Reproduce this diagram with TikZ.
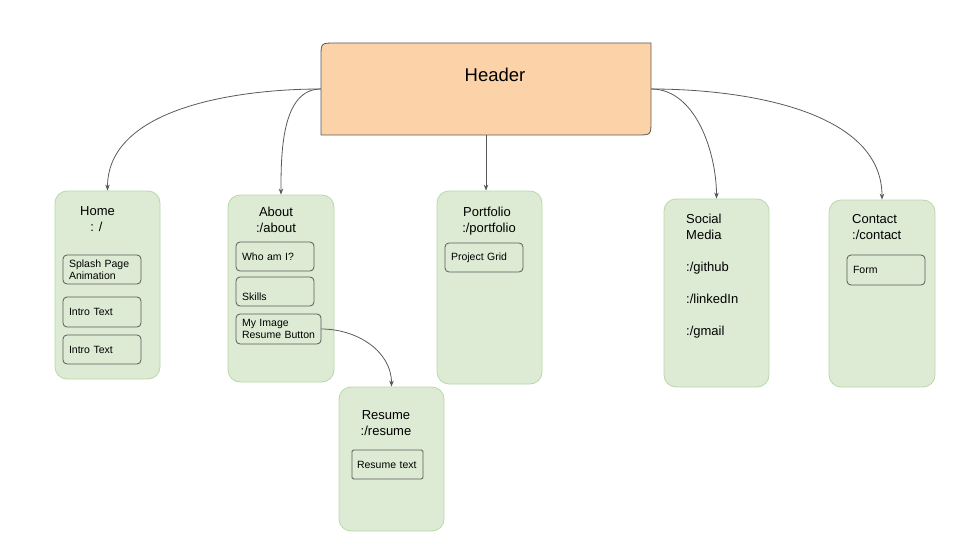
\documentclass[tikz,border=0pt]{standalone}
\usepackage{fontspec}
\setmainfont{Liberation Sans}
\usetikzlibrary{arrows.meta}
\definecolor{gfill}{HTML}{DDEBD4}
\definecolor{gline}{HTML}{B7D9A8}
\definecolor{hfill}{HTML}{FCD3A9}
\definecolor{dline}{HTML}{595959}
\tikzset{
  page/.style={draw=gline, fill=gfill, rounded corners=12pt, line width=0.8pt, inner sep=0pt},
  sub/.style={draw=dline, rounded corners=4pt, line width=0.8pt, inner xsep=6pt, inner ysep=0pt,
     text width=66pt, align=left, font=\fontsize{10.5}{12}\selectfont},
  ttl/.style={inner sep=0pt, font=\fontsize{13}{16}\selectfont},
  conn/.style={draw=dline, line width=0.8pt, -{Stealth[length=6pt,width=4.5pt]}}
}
\begin{document}
\begin{tikzpicture}[x=1pt,y=-1pt]
\useasboundingbox (0,0) rectangle (960,540);
% header
\fill[hfill, draw=dline, line width=0.8pt] (321,135) -- (321,57) .. controls (321,43) .. (335,43) -- (651,43) -- (651,121) .. controls (651,135) .. (637,135) -- cycle;
\node[minimum width=330pt, minimum height=92pt, inner sep=0pt] (header) at (486,89) {};
\node[inner sep=0pt, font=\fontsize{18.5}{22}\selectfont] (htext) at (495,75) {Header};
% pages
\node[page, minimum width=105pt, minimum height=188pt] (home) at (107.5,285) {};
\node[page, minimum width=106pt, minimum height=187pt] (about) at (281,288.5) {};
\node[page, minimum width=105pt, minimum height=193pt] (portfolio) at (489.5,287.5) {};
\node[page, minimum width=105pt, minimum height=188pt] (social) at (716.5,293) {};
\node[page, minimum width=106pt, minimum height=187pt] (contact) at (882,293.5) {};
\node[page, minimum width=105pt, minimum height=144pt] (resume) at (391.5,459) {};
% connectors
\draw[conn] (header.west) to[out=180, in=90, looseness=0.9] (home.north);
\draw[conn] (header.west) to[out=180, in=90, looseness=0.9] (about.north);
\draw[conn] (header.south) -- (header.south |- portfolio.north);
\draw[conn] (header.east) to[out=0, in=90, looseness=0.9] (social.north);
\draw[conn] (header.east) to[out=0, in=90, looseness=0.9] (contact.north);
% titles
\node[ttl, align=center] (hometitle) at (97.5,219.5) {Home\\\hspace*{-2pt}: /};
\node[ttl, align=center] (abouttitle) at (276,219.5) {About\\:/about};
\node[ttl, align=center] (portftitle) at (487,221.5) {Portfolio\\\hspace*{4pt}:/portfolio};
\node[ttl, align=left, anchor=north west] (socialtitle) at (686,214) {Social\\Media\\[16pt]:/github\\[16pt]:/linkedIn\\[16pt]:/gmail};
\node[ttl, align=left, anchor=north west] (contacttitle) at (852,214) {Contact\\:/contact};
\node[ttl, align=center] (resumetitle) at (386,423.5) {Resume\\:/resume};
% sub boxes
\node[sub, minimum height=29pt] (splash) at (102,269.5) {Splash Page\\Animation};
\node[sub, minimum height=30pt] (intro1) at (102,312) {Intro Text};
\node[sub, minimum height=29pt] (intro2) at (102,349.5) {Intro Text};
\node[sub, minimum height=29pt] (who) at (275,256.5) {Who am I?};
\node[sub, minimum height=29pt] (skills) at (275,291.5) {};
\node[inner sep=0pt, anchor=west, font=\fontsize{10.5}{12}\selectfont] (skillstext) at (242,296.5) {Skills};
\node[sub, minimum height=30pt, text width=73pt] (mybtn) at (278.5,329) {My Image\\Resume Button};
\node[sub, minimum height=29pt] (grid) at (484,257.5) {Project Grid};
\node[sub, minimum height=30pt] (form) at (886,270) {Form};
\node[sub, minimum height=29pt, inner xsep=5pt, text width=61pt, rounded corners=1.5pt] (rtext) at (387.5,464.5) {Resume text};
\draw[conn] (mybtn.east) to[out=0, in=90, looseness=1] (resume.north);
\end{tikzpicture}
\end{document}
